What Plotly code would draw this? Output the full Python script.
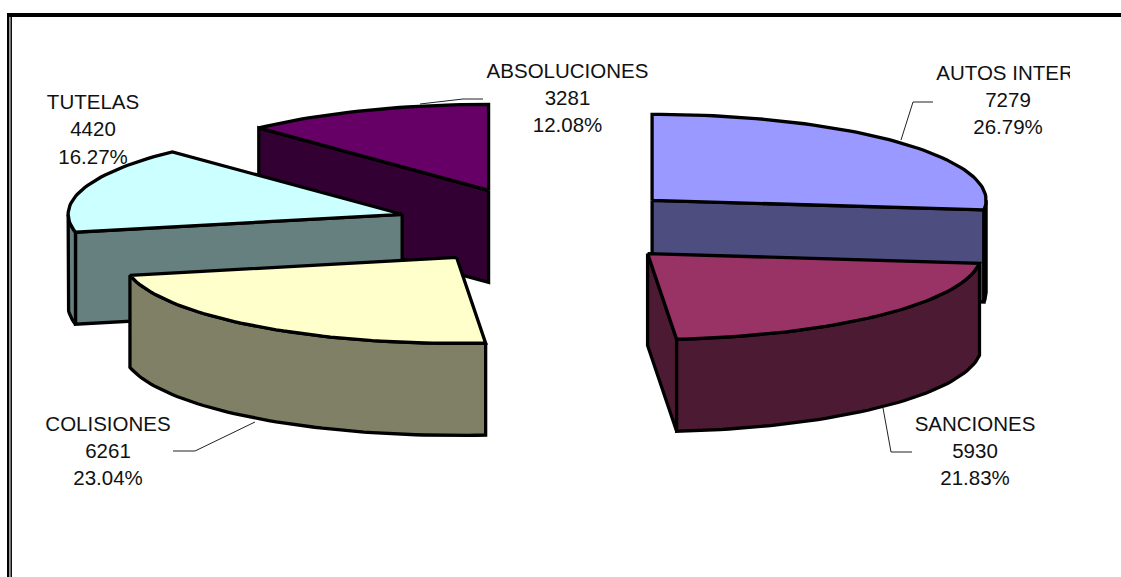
import math
import plotly.graph_objects as go

# ---- data ----
categories = ["AUTOS INTER", "SANCIONES", "COLISIONES", "TUTELAS", "ABSOLUCIONES"]
values = [7279, 5930, 6261, 4420, 3281]
percents = ["26.79%", "21.83%", "23.04%", "16.27%", "12.08%"]

# ---- styles ----
top_colors = ["#9999FF", "#993366", "#FFFFCC", "#CCFFFF", "#660066"]
side_colors = ["#4D4D80", "#4D1A33", "#808066", "#668080", "#330033"]

# ---- projection of the tilted, exploded pie (pixel-space axes) ----
W, H = 1121, 577
CX, CY = 542.5, 225.5
RX, RY = 334.0, 86.0
DEPTH = 92.0
EXPLODE = 0.44
EDGE = 3.3
FONT = dict(family="Liberation Sans, Arial, sans-serif", size=20.5, color="#111111")

# small per-slice corrections of the explode position
nudges = [(0, 0), (2.5, 1), (1.5, 1.5), (0, 0), (0.5, 0)]

# label centre x, first-line y, optional x shift of the first line
label_layout = {
    "AUTOS INTER": (1008, 74.5, -3),
    "SANCIONES": (975, 425.5, 0),
    "COLISIONES": (108, 425.5, 0),
    "TUTELAS": (93, 104, 0),
    "ABSOLUCIONES": (567.5, 72.5, 0),
}
LINE_STEP = 27.3
leaders = {
    "AUTOS INTER": ([933, 913, 901], [102, 102, 140]),
    "SANCIONES": ([912, 891, 883], [452, 452, 408]),
    "COLISIONES": ([173, 195, 255], [451, 451, 422]),
    "ABSOLUCIONES": ([483, 463, 420], [99, 99, 104]),
}


def pt(center, theta, r=1.0):
    """Screen position of polar angle theta (clockwise from the top)."""
    return (center[0] + r * RX * math.sin(theta), center[1] - r * RY * math.cos(theta))


def arc(center, a0, a1):
    n = max(2, int(abs(a1 - a0) / math.radians(1.5)))
    return [pt(center, a0 + (a1 - a0) * i / n) for i in range(n + 1)]


def down(points):
    return [(x, y + DEPTH) for x, y in points]


def face(points, color):
    pts = points + [points[0]]
    return go.Scatter(
        x=[p[0] for p in pts], y=[p[1] for p in pts],
        mode="lines", fill="toself", fillcolor=color,
        line=dict(color="black", width=EDGE, shape="linear"),
        hoverinfo="skip", showlegend=False,
    )


total = sum(values)
slices = []
start = 0.0
for i, v in enumerate(values):
    end = start + 2 * math.pi * v / total
    mid = (start + end) / 2
    cx, cy = pt((CX, CY), mid, EXPLODE)
    centre = (cx + nudges[i][0], cy + nudges[i][1])
    slices.append((centre[1], i, start, end, centre))
    start = end

fig = go.Figure()
for _, i, a0, a1, c in sorted(slices):      # painter's order: back to front
    side = side_colors[i]
    # radial faces, when they look towards the viewer
    if math.cos(a0 - math.pi / 2) < 0:
        e = pt(c, a0)
        fig.add_trace(face([c, e] + down([e, c]), side))
    if math.cos(a1 + math.pi / 2) < 0:
        e = pt(c, a1)
        fig.add_trace(face([c, e] + down([e, c]), side))
    # outer wall: only the front half of the rim
    w0, w1 = max(a0, math.pi / 2), min(a1, 3 * math.pi / 2)
    if w1 > w0:
        rim = arc(c, w0, w1)
        fig.add_trace(face(rim + down(rim)[::-1], side))
    # top
    fig.add_trace(face([c] + arc(c, a0, a1), top_colors[i]))

for name, (xs, ys) in leaders.items():
    fig.add_trace(go.Scatter(x=xs, y=ys, mode="lines",
                             line=dict(color="#222222", width=1),
                             hoverinfo="skip", showlegend=False))

# labels live on a second x axis whose plot area stops where the reference clips its text
CLIP_X = 1070
for name, val, pct in zip(categories, values, percents):
    x, y, dx = label_layout[name]
    fig.add_trace(go.Scatter(
        x=[x + dx, x, x], y=[y, y + LINE_STEP, y + 2 * LINE_STEP],
        text=[name, str(val), pct], mode="text", textposition="middle center",
        textfont=FONT, xaxis="x2", yaxis="y",
        hoverinfo="skip", showlegend=False, cliponaxis=True,
    ))

frame = dict(type="line", xref="x", yref="y", line=dict(color="black"))
fig.update_layout(
    width=W, height=H,
    margin=dict(l=0, r=0, t=0, b=0, pad=0),
    paper_bgcolor="white", plot_bgcolor="rgba(0,0,0,0)",
    xaxis=dict(range=[0, W], domain=[0, 1], visible=False, fixedrange=True),
    xaxis2=dict(range=[0, CLIP_X], domain=[0, CLIP_X / W], visible=False,
                fixedrange=True, anchor="y"),
    yaxis=dict(range=[H, 0], domain=[0, 1], visible=False, fixedrange=True),
    showlegend=False,
    shapes=[
        {**frame, "x0": 7, "x1": W, "y0": 15, "y1": 15, "line": dict(color="black", width=4)},
        {**frame, "x0": 8.2, "x1": 8.2, "y0": 13, "y1": H, "line": dict(color="black", width=2.4)},
        {**frame, "x0": 11.2, "x1": 11.2, "y0": 15, "y1": H, "line": dict(color="black", width=1.5)},
    ],
)
fig.write_html("out.html", config=dict(displayModeBar=False),
               post_script="document.body.style.margin='0';")
